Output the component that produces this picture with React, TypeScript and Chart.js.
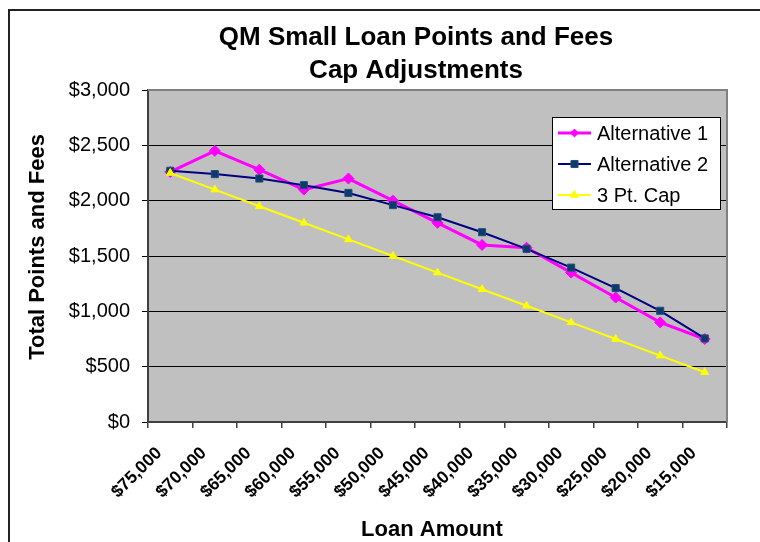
import React, { useEffect, useRef } from 'react';
import { Chart, registerables } from 'chart.js';

Chart.register(...registerables);

const loanAmounts = ['$75,000', '$70,000', '$65,000', '$60,000', '$55,000', '$50,000', '$45,000', '$40,000', '$35,000', '$30,000', '$25,000', '$20,000', '$15,000'];
const alternative1 = [2260, 2450, 2280, 2100, 2200, 2000, 1800, 1600, 1575, 1350, 1125, 900, 750];
const alternative2 = [2270, 2240, 2200, 2140, 2070, 1960, 1850, 1715, 1565, 1395, 1210, 1005, 755];
const threePtCap = [2250, 2100, 1950, 1800, 1650, 1500, 1350, 1200, 1050, 900, 750, 600, 450];
const seriesNames = ['Alternative 1', 'Alternative 2', '3 Pt. Cap'];
const titleLines = ['QM Small Loan Points and Fees', 'Cap Adjustments'];
const yAxisTitle = 'Total Points and Fees';
const xAxisTitle = 'Loan Amount';
const yMin = 0;
const yMax = 3000;
const yStep = 500;

const FAMILY = '"Liberation Sans", Arial, sans-serif';

function drawMarker(ctx: CanvasRenderingContext2D, style: string, x: number, y: number, r: number, fill: string, stroke: string) {
  ctx.save();
  ctx.beginPath();
  if (style === 'rectRot') {
    const s = r * Math.SQRT1_2;
    ctx.moveTo(x - s, y);
    ctx.lineTo(x, y + s);
    ctx.lineTo(x + s, y);
    ctx.lineTo(x, y - s);
    ctx.closePath();
  } else if (style === 'rect') {
    const s = r * Math.SQRT1_2;
    ctx.rect(x - s, y - s, 2 * s, 2 * s);
  } else {
    ctx.moveTo(x - r * 0.866, y + r * 0.5);
    ctx.lineTo(x + r * 0.866, y + r * 0.5);
    ctx.lineTo(x, y - r);
    ctx.closePath();
  }
  ctx.fillStyle = fill;
  ctx.fill();
  ctx.strokeStyle = stroke;
  ctx.lineWidth = 1;
  ctx.stroke();
  ctx.restore();
}

const decor = {
  id: 'decor',
  beforeDraw(chart: any) {
    const { ctx, chartArea: a, width, height } = chart;
    ctx.save();
    ctx.fillStyle = '#ffffff';
    ctx.fillRect(0, 0, width, height);
    ctx.fillStyle = '#C0C0C0';
    ctx.fillRect(a.left, a.top, a.right - a.left, a.bottom - a.top);
    ctx.restore();
  },
  afterDraw(chart: any) {
    const { ctx, chartArea: a } = chart;
    ctx.save();
    // plot border top/right
    ctx.strokeStyle = '#808080';
    ctx.lineWidth = 2;
    ctx.beginPath();
    ctx.moveTo(a.left, a.top);
    ctx.lineTo(a.right, a.top);
    ctx.lineTo(a.right, a.bottom);
    ctx.stroke();
    // outer border (left & top)
    ctx.strokeStyle = '#222';
    ctx.lineWidth = 2;
    ctx.beginPath();
    ctx.moveTo(9, 560);
    ctx.lineTo(9, 10);
    ctx.lineTo(780, 10);
    ctx.stroke();
    // title
    ctx.fillStyle = '#000';
    ctx.textAlign = 'center';
    ctx.textBaseline = 'middle';
    ctx.font = `bold 26px ${FAMILY}`;
    ctx.fillText(titleLines[0], 416, 38);
    ctx.fillText(titleLines[1], 416, 71);
    // axis titles
    ctx.font = `bold 22px ${FAMILY}`;
    ctx.fillText(xAxisTitle, 432, 530);
    ctx.save();
    ctx.translate(38, 247);
    ctx.rotate(-Math.PI / 2);
    ctx.fillText(yAxisTitle, 0, 0);
    ctx.restore();
    // legend
    const bx = 552, by = 117, bw = 168, bh = 92;
    ctx.fillStyle = '#fff';
    ctx.fillRect(bx, by, bw, bh);
    ctx.strokeStyle = '#000';
    ctx.lineWidth = 1;
    ctx.strokeRect(bx + 0.5, by + 0.5, bw, bh);
    const rows = [133, 164, 195];
    chart.data.datasets.forEach((ds: any, i: number) => {
      const y = rows[i];
      ctx.strokeStyle = ds.borderColor;
      ctx.lineWidth = ds.borderWidth;
      ctx.beginPath();
      ctx.moveTo(558, y);
      ctx.lineTo(591, y);
      ctx.stroke();
      drawMarker(ctx, ds.pointStyle, 574.5, y, ds.pointRadius, ds.pointBackgroundColor, ds.pointBorderColor);
      ctx.fillStyle = '#000';
      ctx.textAlign = 'left';
      ctx.textBaseline = 'middle';
      ctx.font = `20px ${FAMILY}`;
      ctx.fillText(ds.label, 597, y + 1);
    });
    ctx.restore();
  },
};

export default function App() {
  const ref = useRef<HTMLCanvasElement | null>(null);
  useEffect(() => {
    if (!ref.current) return;
    const chart = new Chart(ref.current, {
      type: 'line',
      data: {
        labels: loanAmounts,
        datasets: [
          {
            label: seriesNames[0],
            data: alternative1,
            borderColor: '#FF00FF',
            borderWidth: 3,
            pointStyle: 'rectRot',
            pointRadius: 5.5,
            pointBackgroundColor: '#FF00FF',
            pointBorderColor: '#FF00FF',
            pointBorderWidth: 1,
            tension: 0,
            order: 2,
          },
          {
            label: seriesNames[1],
            data: alternative2,
            borderColor: '#000080',
            borderWidth: 2,
            pointStyle: 'rect',
            pointRadius: 5,
            pointBackgroundColor: '#0B3B6B',
            pointBorderColor: '#244C7A',
            pointBorderWidth: 1,
            tension: 0,
            order: 1,
          },
          {
            label: seriesNames[2],
            data: threePtCap,
            borderColor: '#FFFF00',
            borderWidth: 2,
            pointStyle: 'triangle',
            pointRadius: 4.5,
            pointBackgroundColor: '#FFFF00',
            pointBorderColor: '#FFFF00',
            pointBorderWidth: 1,
            tension: 0,
            order: 0,
          },
        ] as any,
      },
      options: {
        animation: false,
        responsive: false,
        layout: { padding: { top: 90, right: 33, left: 0, bottom: 0 } },
        plugins: {
          legend: { display: false },
          title: { display: false },
          tooltip: { enabled: false },
        },
        scales: {
          x: {
            type: 'category',
            offset: true,
            grid: { offset: true, drawOnChartArea: false, drawTicks: true, tickLength: 6, color: '#404040', lineWidth: 1.5 },
            border: { display: true, color: '#404040', width: 2 },
            ticks: {
              autoSkip: false,
              maxRotation: 45,
              minRotation: 45,
              color: '#000',
              padding: 15,
              labelOffset: -11,
              font: { family: FAMILY, size: 17.5, weight: 'bold' },
            },
            afterFit(s: any) { s.height = 120; },
          },
          y: {
            min: yMin,
            max: yMax,
            ticks: {
              stepSize: yStep,
              color: '#000',
              padding: 12,
              font: { family: FAMILY, size: 20 },
              callback: (v: any) => '$' + Number(v).toLocaleString('en-US'),
            },
            grid: { color: '#000', lineWidth: 1, tickLength: 6, drawTicks: true },
            border: { display: true, color: '#404040', width: 2 },
            afterFit(s: any) { s.width = 148; },
          },
        },
      } as any,
      plugins: [decor],
    });
    return () => chart.destroy();
  }, []);
  return (
    <div style={{ position: 'absolute', left: 0, top: 0, width: 760, height: 542 }}>
      <canvas ref={ref} width={760} height={542} style={{ display: 'block' }} />
    </div>
  );
}
